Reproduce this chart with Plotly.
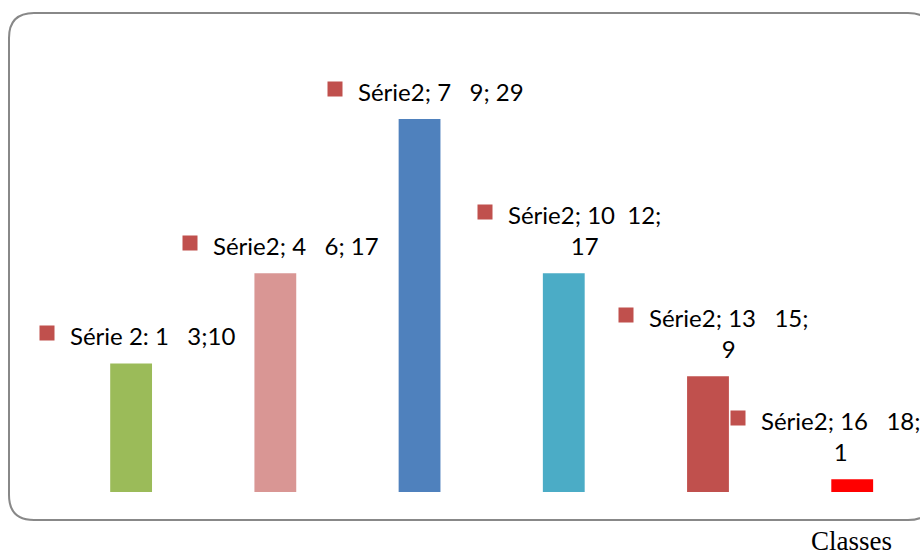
import plotly.graph_objects as go

# ---- data ----
classes = ["1   3", "4   6", "7   9", "10  12", "13   15", "16   18"]
effectifs = [10, 17, 29, 17, 9, 1]
labels = ["Série 2: 1   3;10", "Série2; 4   6; 17", "Série2; 7   9; 29",
          "Série2; 10  12;<br>17", "Série2; 13   15;<br>9", "Série2; 16   18;<br>1"]
bar_colors = ["#9BBB59", "#D99694", "#4F81BD", "#4BACC6", "#C0504D", "#FF0000"]
axis_title = "Classes"

# ---- layout constants (pixels) ----
W, H = 920, 556
L, R, T, B = 59, 0, 12, 64
PW, PH = W - L - R, H - T - B
label_xshift = [-63, -64, -64, -58, -61, -93]
FONT = "Lato, Calibri, 'Liberation Sans', sans-serif"

fig = go.Figure()
fig.add_trace(go.Bar(
    x=list(range(len(classes))), y=effectifs, width=0.29,
    marker=dict(color=bar_colors, line=dict(width=0)),
    hoverinfo="skip", showlegend=False,
))

anns = []
for i, (v, lab) in enumerate(zip(effectifs, labels)):
    nlines = lab.count("<br>") + 1
    txt = lab.replace("   ", "\u00a0\u00a0\u00a0").replace("  ", "\u00a0\u00a0")
    anns.append(dict(
        x=i, y=v, xref="x", yref="y", text=txt, showarrow=False,
        xanchor="left", yanchor="bottom", align="center",
        xshift=label_xshift[i], yshift=11,
        font=dict(family=FONT, size=24, color="#000000"),
    ))
    anns.append(dict(
        x=i, y=v, xref="x", yref="y", text=" ", showarrow=False,
        xanchor="left", yanchor="middle",
        width=14, height=14, bgcolor="#C0504D", borderpad=0,
        xshift=label_xshift[i] - 29, yshift=30 + (nlines - 1) * 31,
        font=dict(size=4),
    ))

anns.append(dict(
    x=(851 - L) / PW, y=(H - B - 541) / PH,
    xref="paper", yref="paper", text=axis_title, showarrow=False,
    xanchor="center", yanchor="middle",
    font=dict(family="'Liberation Serif', 'Times New Roman', serif", size=27, color="#000000"),
))

# rounded border (pixel -> paper)
def px2x(px):
    return (px - L) / PW

def py2y(py):
    return (H - B - py) / PH

x0, x1, y0, y1, r = 9, 933, 13, 520, 25
pts = [
    ("M", x0 + r, y0), ("L", x1 - r, y0), ("Q", x1, y0, x1, y0 + r),
    ("L", x1, y1 - r), ("Q", x1, y1, x1 - r, y1), ("L", x0 + r, y1),
    ("Q", x0, y1, x0, y1 - r), ("L", x0, y0 + r), ("Q", x0, y0, x0 + r, y0),
]
path = ""
for p in pts:
    cmd = p[0]
    coords = p[1:]
    s = []
    for k in range(0, len(coords), 2):
        s.append(f"{px2x(coords[k]):.5f},{py2y(coords[k+1]):.5f}")
    path += cmd + " " + " ".join(s) + " "
path += "Z"

fig.update_layout(
    width=W, height=H,
    margin=dict(l=L, r=R, t=T, b=B, pad=0),
    paper_bgcolor="white", plot_bgcolor="white",
    xaxis=dict(range=[-0.5, 5.47], visible=False, fixedrange=True),
    yaxis=dict(range=[0, 37.32], visible=False, fixedrange=True),
    annotations=anns,
    shapes=[dict(type="path", path=path, xref="paper", yref="paper",
                 line=dict(color="#888888", width=2), layer="below")],
    showlegend=False,
)

fig.write_html("out.html", config={"displayModeBar": False})
